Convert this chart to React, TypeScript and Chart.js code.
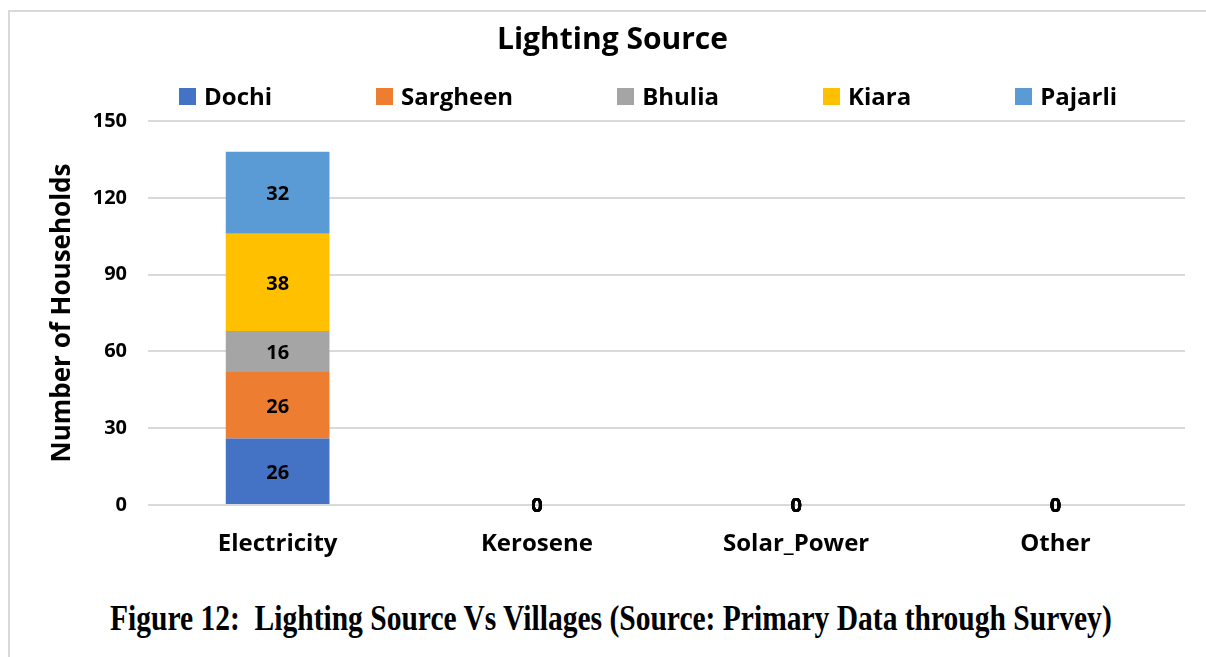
import React, { useEffect, useLayoutEffect, useRef, useState } from "react";
import { Chart, registerables } from "chart.js";

Chart.register(...registerables);

const categories = ["Electricity", "Kerosene", "Solar_Power", "Other"];
const villages = ["Dochi", "Sargheen", "Bhulia", "Kiara", "Pajarli"];
const dochi = [26, 0, 0, 0];
const sargheen = [26, 0, 0, 0];
const bhulia = [16, 0, 0, 0];
const kiara = [38, 0, 0, 0];
const pajarli = [32, 0, 0, 0];
const seriesValues = [dochi, sargheen, bhulia, kiara, pajarli];
const colors = ["#4472C4", "#ED7D31", "#A5A5A5", "#FFC000", "#5B9BD5"];
const yMin = 0;
const yMax = 150;
const yStep = 30;
const chartTitle = "Lighting Source";
const yTitle = "Number of Households";
const caption = "Figure 12:  Lighting Source Vs Villages (Source: Primary Data through Survey)";

const FONT = "'Open Sans', 'DejaVu Sans', sans-serif";

const valueLabels = {
  id: "valueLabels",
  afterDatasetsDraw(chart: any) {
    const ctx = chart.ctx;
    ctx.save();
    ctx.font = `bold 20px ${FONT}`;
    ctx.fillStyle = "#000";
    ctx.textAlign = "center";
    ctx.textBaseline = "middle";
    chart.data.datasets.forEach((ds: any, di: number) => {
      const meta = chart.getDatasetMeta(di);
      meta.data.forEach((el: any, i: number) => {
        const v = ds.data[i];
        const y = v === 0 ? el.base + 1 : (el.y + el.base) / 2 + 2;
        ctx.fillText(String(v), el.x, y);
      });
    });
    ctx.restore();
  },
};

export default function App() {
  const canvasRef = useRef<HTMLCanvasElement | null>(null);
  const capRef = useRef<HTMLSpanElement | null>(null);
  const [capScale, setCapScale] = useState(1);

  useLayoutEffect(() => {
    if (capRef.current) {
      const w = capRef.current.offsetWidth;
      if (w > 0) setCapScale(1002 / w);
    }
  }, []);

  useEffect(() => {
    if (!canvasRef.current) return;
    const chart = new Chart(canvasRef.current, {
      type: "bar",
      data: {
        labels: categories,
        datasets: villages.map((name, i) => ({
          label: name,
          data: seriesValues[i],
          backgroundColor: colors[i],
          borderWidth: 0,
          barPercentage: 0.4,
          categoryPercentage: 1,
        })),
      },
      options: {
        responsive: false,
        animation: false,
        layout: { padding: { left: 30, right: 15, top: 0, bottom: 0 } },
        plugins: {
          legend: { display: false },
          tooltip: { enabled: false },
          title: {
            display: true,
            text: chartTitle,
            color: "#000",
            font: { family: FONT, size: 30, weight: "bold" },
            padding: { top: 10, bottom: 63 },
          },
        },
        scales: {
          x: {
            stacked: true,
            grid: { display: false },
            border: { display: false },
            ticks: {
              color: "#000",
              font: { family: FONT, size: 24, weight: "bold" },
              padding: 17,
              maxRotation: 0,
            },
            afterFit: (s: any) => {
              s.height = 80;
            },
          },
          y: {
            stacked: true,
            min: yMin,
            max: yMax,
            ticks: {
              stepSize: yStep,
              color: "#000",
              font: { family: FONT, size: 20, weight: "bold" },
              padding: 21,
            },
            grid: { color: "#d9d9d9", lineWidth: 2, drawTicks: false },
            border: { display: false },
            title: {
              display: true,
              text: yTitle,
              color: "#000",
              font: { family: FONT, size: 26, weight: "bold" },
              padding: { top: 7, bottom: 0 },
            },
            afterFit: (s: any) => {
              s.width = 108;
            },
          },
        },
      },
      plugins: [valueLabels],
    });
    return () => chart.destroy();
  }, []);

  return (
    <div
      style={{
        position: "absolute",
        left: 8,
        top: 10,
        width: 1198,
        height: 647,
        borderTop: "2px solid #d9d9d9",
        borderLeft: "2px solid #d9d9d9",
        background: "#fff",
        overflow: "hidden",
      }}
    >
      <canvas
        ref={canvasRef}
        width={1190}
        height={573}
        style={{ position: "absolute", left: 0, top: 0 }}
      />
      <div
        style={{
          position: "absolute",
          left: 169,
          top: 72,
          display: "flex",
          alignItems: "center",
          height: 24,
          fontFamily: FONT,
          fontWeight: 700,
          fontSize: 24,
          lineHeight: "24px",
          color: "#000",
          whiteSpace: "nowrap",
        }}
      >
        {villages.map((name, i) => (
          <div
            key={name}
            style={{ display: "flex", alignItems: "center", marginRight: i < villages.length - 1 ? 104 : 0 }}
          >
            <span style={{ width: 17, height: 17, background: colors[i], display: "inline-block", marginRight: 8 }} />
            <span>{name}</span>
          </div>
        ))}
      </div>
      <div
        style={{
          position: "absolute",
          left: 100,
          top: 588,
          whiteSpace: "nowrap",
          transform: `scaleX(${capScale})`,
          transformOrigin: "left top",
        }}
      >
        <span
          ref={capRef}
          style={{
            fontFamily: "'Liberation Serif', 'Times New Roman', serif",
            fontWeight: 700,
            fontSize: 36,
            lineHeight: "36px",
            color: "#000",
            whiteSpace: "pre",
          }}
        >
          {caption}
        </span>
      </div>
    </div>
  );
}
